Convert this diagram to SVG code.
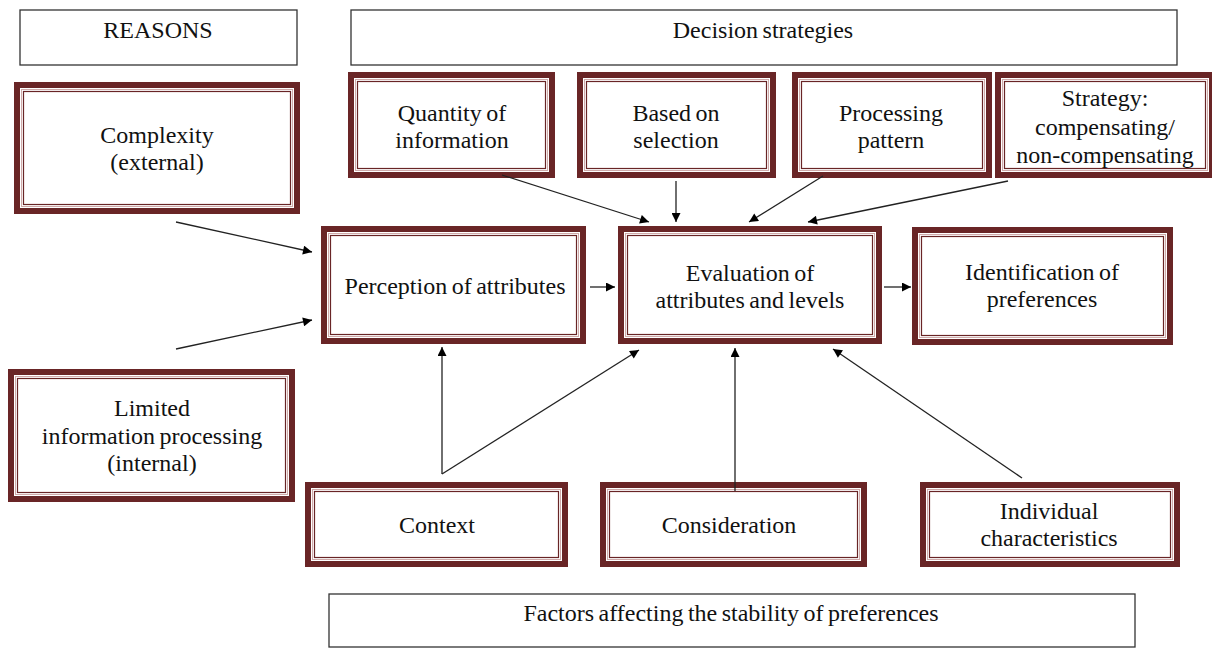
<svg xmlns="http://www.w3.org/2000/svg" width="1212" height="648" viewBox="0 0 1212 648">
<defs>
<style>
.t{font-family:"Liberation Serif","Times New Roman",serif;font-size:24px;word-spacing:-1.5px;fill:#111;text-anchor:middle}
.plain{fill:#fff;stroke:#333;stroke-width:1.3}
.o{fill:#fff;stroke:#692526;stroke-width:6}
.m{fill:none;stroke:#cfaaaa;stroke-width:1}
.i{fill:none;stroke:#692526;stroke-width:1.2}
.c{fill:none;stroke:#222;stroke-width:1.3}
</style>
<marker id="ah" viewBox="0 0 10 10" refX="10" refY="5" markerWidth="10" markerHeight="9" markerUnits="userSpaceOnUse" orient="auto">
<path d="M0,0 L10,5 L0,10 z" fill="#000"/>
</marker>
</defs>
<rect width="1212" height="648" fill="#fff"/>

<g id="reasons"><rect class="plain" x="20" y="10" width="277" height="55"/><text class="t" x="158" y="38">REASONS</text></g>
<g id="decision-strategies"><rect class="plain" x="351" y="10" width="826" height="55"/><text class="t" x="763" y="38">Decision strategies</text></g>
<g id="factors"><rect class="plain" x="329" y="594" width="806" height="53"/><text class="t" x="731" y="621">Factors affecting the stability of preferences</text></g>

<g id="complexity"><rect class="o" x="17" y="85" width="280" height="126"/><rect class="m" x="21.5" y="89.5" width="271" height="117"/><rect class="i" x="23.5" y="91.5" width="267" height="113"/>
<text class="t" x="157" y="143">Complexity</text><text class="t" x="157" y="170">(external)</text></g>

<g id="limited"><rect class="o" x="11" y="372" width="281" height="127"/><rect class="m" x="15.5" y="376.5" width="272" height="118"/><rect class="i" x="17.5" y="378.5" width="268" height="114"/>
<text class="t" x="152" y="416">Limited</text><text class="t" x="152" y="444">information processing</text><text class="t" x="152" y="471">(internal)</text></g>

<g id="quantity"><rect class="o" x="351" y="75" width="201" height="100"/><rect class="m" x="355.5" y="79.5" width="192" height="91"/><rect class="i" x="357.5" y="81.5" width="188" height="87"/>
<text class="t" x="452" y="121">Quantity of</text><text class="t" x="452" y="148">information</text></g>

<g id="selection"><rect class="o" x="580" y="75" width="193" height="100"/><rect class="m" x="584.5" y="79.5" width="184" height="91"/><rect class="i" x="586.5" y="81.5" width="180" height="87"/>
<text class="t" x="676" y="121">Based on</text><text class="t" x="676" y="148">selection</text></g>

<g id="pattern"><rect class="o" x="795" y="75" width="194" height="100"/><rect class="m" x="799.5" y="79.5" width="185" height="91"/><rect class="i" x="801.5" y="81.5" width="181" height="87"/>
<text class="t" x="891" y="121">Processing</text><text class="t" x="891" y="148">pattern</text></g>

<g id="strategy"><rect class="o" x="998" y="75" width="214" height="100"/><rect class="m" x="1002.5" y="79.5" width="205" height="91"/><rect class="i" x="1004.5" y="81.5" width="201" height="87"/>
<text class="t" x="1105" y="106">Strategy:</text><text class="t" x="1105" y="135">compensating/</text><text class="t" x="1105" y="163">non-compensating</text></g>

<g id="perception"><rect class="o" x="324" y="229" width="259" height="112"/><rect class="m" x="328.5" y="233.5" width="250" height="103"/><rect class="i" x="330.5" y="235.5" width="246" height="99"/>
<text class="t" x="455" y="294">Perception of attributes</text></g>

<g id="evaluation"><rect class="o" x="621" y="229" width="258" height="112"/><rect class="m" x="625.5" y="233.5" width="249" height="103"/><rect class="i" x="627.5" y="235.5" width="245" height="99"/>
<text class="t" x="750" y="281">Evaluation of</text><text class="t" x="750" y="308">attributes and levels</text></g>

<g id="identification"><rect class="o" x="915" y="230" width="255" height="112"/><rect class="m" x="919.5" y="234.5" width="246" height="103"/><rect class="i" x="921.5" y="236.5" width="242" height="99"/>
<text class="t" x="1042" y="280">Identification of</text><text class="t" x="1042" y="307">preferences</text></g>

<g id="context"><rect class="o" x="308" y="485" width="257" height="79"/><rect class="m" x="312.5" y="489.5" width="248" height="70"/><rect class="i" x="314.5" y="491.5" width="244" height="66"/>
<text class="t" x="437" y="533">Context</text></g>

<g id="consideration"><rect class="o" x="603" y="485" width="261" height="79"/><rect class="m" x="607.5" y="489.5" width="252" height="70"/><rect class="i" x="609.5" y="491.5" width="248" height="66"/>
<text class="t" x="729" y="533">Consideration</text></g>

<g id="individual"><rect class="o" x="923" y="485" width="254" height="79"/><rect class="m" x="927.5" y="489.5" width="245" height="70"/><rect class="i" x="929.5" y="491.5" width="241" height="66"/>
<text class="t" x="1049" y="519">Individual</text><text class="t" x="1049" y="546">characteristics</text></g>

<g id="connectors">
<line class="c" x1="176" y1="222" x2="312" y2="252" marker-end="url(#ah)"/>
<line class="c" x1="176" y1="349" x2="312" y2="320" marker-end="url(#ah)"/>
<line class="c" x1="590" y1="287" x2="615" y2="287" marker-end="url(#ah)"/>
<line class="c" x1="884" y1="287" x2="911" y2="287" marker-end="url(#ah)"/>
<line class="c" x1="502" y1="175" x2="649" y2="222" marker-end="url(#ah)"/>
<line class="c" x1="676" y1="181" x2="676" y2="222" marker-end="url(#ah)"/>
<line class="c" x1="823" y1="176" x2="749" y2="222" marker-end="url(#ah)"/>
<line class="c" x1="1008" y1="181" x2="808" y2="222" marker-end="url(#ah)"/>
<line class="c" x1="442" y1="474" x2="442" y2="347" marker-end="url(#ah)"/>
<line class="c" x1="442" y1="474" x2="639" y2="350" marker-end="url(#ah)"/>
<line class="c" x1="735" y1="491" x2="735" y2="348" marker-end="url(#ah)"/>
<line class="c" x1="1022" y1="478" x2="833" y2="349" marker-end="url(#ah)"/>
</g>
</svg>
